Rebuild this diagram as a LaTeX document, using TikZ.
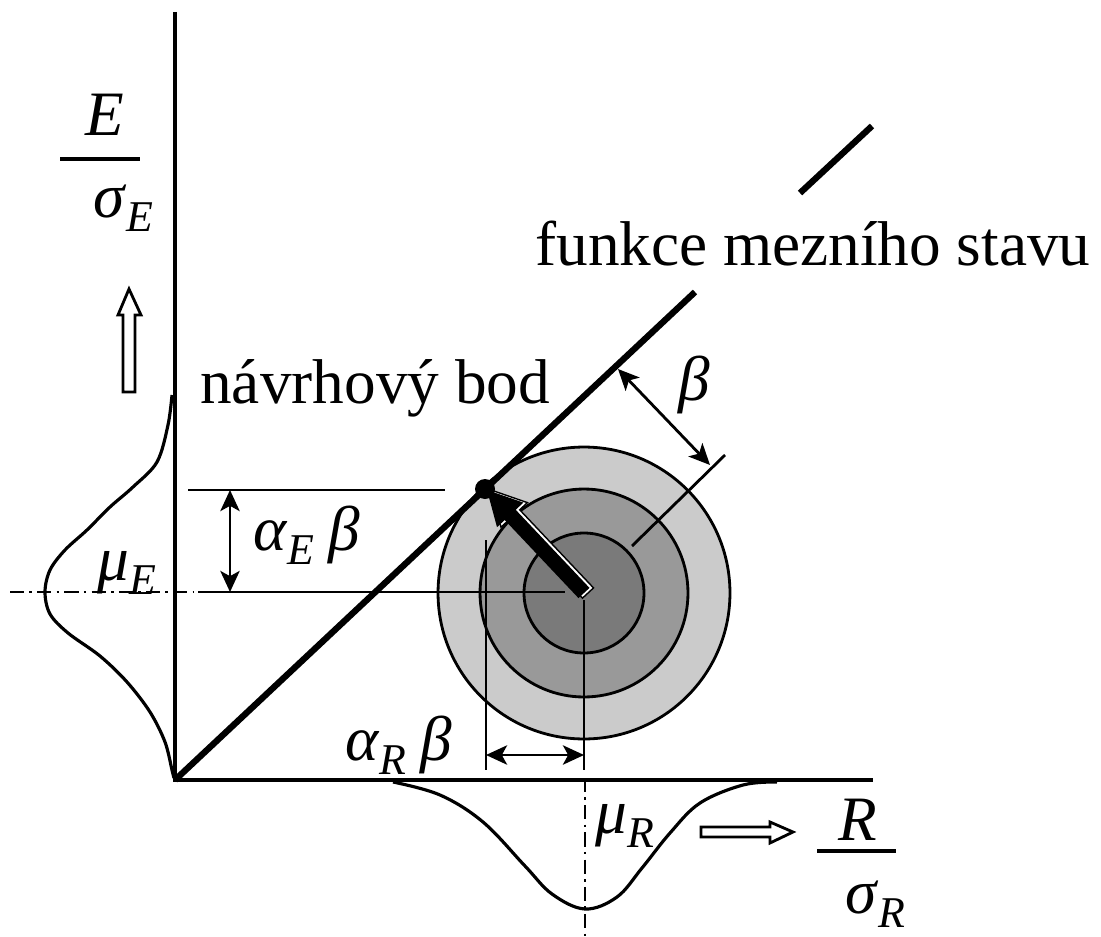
\documentclass[tikz,border=0pt]{standalone}
\usepackage{fontspec}
\setmainfont{Liberation Serif}
\usetikzlibrary{arrows.meta}

\definecolor{ringouter}{RGB}{203,203,203}
\definecolor{ringmiddle}{RGB}{153,153,153}
\definecolor{ringinner}{RGB}{122,122,122}
\newcommand{\sym}[2]{\textit{#1}\raisebox{-8.5pt}{\fontsize{25}{25}\selectfont\textit{#2}}}

\begin{document}
\begin{tikzpicture}[x=0.02cm,y=-0.02cm,>={Stealth[length=12pt,width=11pt,inset=3pt]},
  every node/.style={inner sep=0pt,anchor=base west,font=\fontsize{36}{40}\selectfont},
  thinline/.style={line width=1.6pt},
  axisline/.style={line width=1.8pt},
  limitline/.style={line width=3.6pt},
  centerline/.style={line width=1.6pt,dash pattern=on 8pt off 3pt on 1.5pt off 3pt},
  density/.style={line width=1.8pt},
  hollow/.style={draw,line width=1.6pt,fill=white},
  ring/.style={draw,line width=1.6pt}]
\useasboundingbox (0,0) rectangle (1101,936);
\coordinate (O) at (175,780);
\coordinate (C) at (584,593);
\coordinate (D) at (485,489);

% probability rings
\filldraw[ring,fill=ringouter] (C) circle[radius=2.92cm];
\filldraw[ring,fill=ringmiddle] (C) circle[radius=2.08cm];
\filldraw[ring,fill=ringinner] (C) circle[radius=1.2cm];

% axes and densities
\draw[axisline] (175,12) -- (O) -- (873,780);
\draw[density] plot[smooth,tension=0.55] coordinates {(172,395) (168,425) (157,462) (133,487) (110,507) (87,530) (65,550) (50,570) (45,592) (50,614) (68,633) (100,656) (127,682) (150,712) (165,742) (172,770) (174,778)};
\draw[density] plot[smooth,tension=0.6] coordinates {(393,782) (440,795) (483,822) (525,866) (552,894) (585,909) (617,897) (642,868) (670,833) (700,803) (743,785) (777,782)};
\draw[centerline] (10,592) -- (194,592);
\draw[centerline] (585,778) -- (585,936);

% dimension lines
\draw[thinline] (188,490) -- (445,490);
\draw[thinline] (198,592) -- (565,592);
\draw[thinline,<->] (230,490) -- (230,592);
\draw[thinline] (486,540) -- (486,770);
\draw[thinline] (584,600) -- (584,770);
\draw[thinline,<->] (486,755) -- (584,755);
\draw[thinline] (632,546) -- (725,455);
\draw[thinline,<->] (618,369) -- (710,465);

% limit state function
\draw[limitline] (O) -- (695,292);
\draw[limitline] (800,193) -- (872,126);

% vector to the design point
\filldraw[draw=black,fill=white,line width=0.8pt,shift={(4,0)}] (589.5,587.9) -- (515.7,509.8) -- (523.4,502.6) -- (487,490) -- (497.0,527.2) -- (504.7,520.0) -- (578.5,598.1) -- cycle;
\fill (589.5,587.9) -- (515.7,509.8) -- (523.4,502.6) -- (487,490) -- (497.0,527.2) -- (504.7,520.0) -- (578.5,598.1) -- cycle;
\fill (D) circle[radius=0.2cm];

% hollow direction arrows
\draw[hollow] (123,392) -- (123,315) -- (118,315) -- (129,289) -- (141,315) -- (135,315) -- (135,392) -- cycle;
\draw[hollow] (701,827) -- (770,827) -- (770,822) -- (793,832) -- (770,843) -- (770,837) -- (701,837) -- cycle;

% labels
\node (lsf) at (535,265) {funkce mezního stavu};
\node (dp) at (200,403) {návrhový bod};
\node (beta) at (678,400) {\textit{β}};
\node (aEb) at (253,550) {\sym{α}{E}\hspace{8pt}\textit{β}};
\node (aRb) at (345,760) {\sym{α}{R}\hspace{8pt}\textit{β}};
\node (muE) at (97,580) {\sym{μ}{E}};
\node (muR) at (595,833) {\sym{μ}{R}};
\node (E) at (85,135) {\textit{E}};
\node (sE) at (93,217) {\sym{σ}{E}};
\node (R) at (838,840) {\textit{R}};
\node (sR) at (845,913) {\sym{σ}{R}};
\draw[axisline] (60,159) -- (140,159);
\draw[axisline] (817,851) -- (896,851);
\end{tikzpicture}
\end{document}
